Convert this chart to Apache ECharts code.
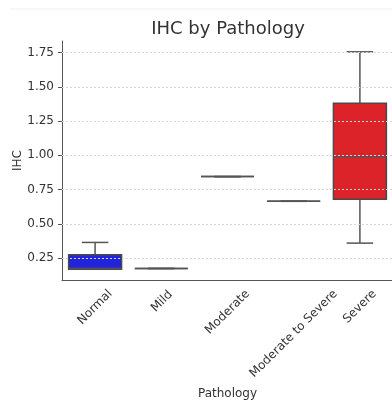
<!DOCTYPE html>
<html>
<head>
<meta charset="utf-8">
<script src="https://cdn.jsdelivr.net/npm/echarts@6/dist/echarts.min.js"></script>
<style>
html, body { margin: 0; padding: 0; background: #fff; }
#chart { width: 392px; height: 401px; }
</style>
</head>
<body>
<div id="chart"></div>
<script>
// data
const categories = ['Normal', 'Mild', 'Moderate', 'Moderate to Severe', 'Severe']
const mins = [0.17, 0.175, 0.845, 0.665, 0.36]
const q1s = [0.17, 0.175, 0.845, 0.665, 0.68]
const medians = [0.175, 0.175, 0.845, 0.665, 0.99]
const q3s = [0.275, 0.175, 0.845, 0.665, 1.38]
const maxs = [0.365, 0.175, 0.845, 0.665, 1.755]
const boxColors = ['#2323dc', '#e8862a', '#3a9a3a', '#8b5fb8', '#dc2329']
const yTicks = [0.25, 0.5, 0.75, 1.0, 1.25, 1.5, 1.75]

const FONT = 'DejaVu Sans'
const LABEL_SIZE = 12
const LABEL_LH = 14

// measure label widths so rotated labels sit centered under the tick
const ctx = document.createElement('canvas').getContext('2d')
ctx.font = LABEL_SIZE + 'px "' + FONT + '"'
const xData = categories.map(c => {
	const w = ctx.measureText(c).width
	return {
		value: c,
		textStyle: {
			align: 'center',
			verticalAlign: 'top',
			lineHeight: LABEL_LH,
			padding: [Math.max(0, w / 4 - LABEL_LH / 2), w / 2, 0, 0]
		}
	}
})

const boxData = categories.map((c, i) => [i, mins[i], q1s[i], medians[i], q3s[i], maxs[i]])

const chart = echarts.init(document.getElementById('chart'))
chart.setOption({
	animation: false,
	textStyle: { fontFamily: FONT },
	title: {
		text: 'IHC by Pathology',
		left: 223,
		top: 15,
		textAlign: 'center',
		textStyle: { fontFamily: FONT, fontSize: 18, fontWeight: 'normal', color: '#333' }
	},
	graphic: [{
		type: 'line',
		shape: { x1: 10, y1: 9, x2: 392, y2: 9 },
		style: { stroke: '#f0f0f0', lineWidth: 1 }
	}],
	grid: {
		left: 62,
		right: -1,
		top: 41,
		bottom: 121,
		outerBoundsMode: 'none',
		containLabel: false
	},
	xAxis: {
		type: 'category',
		data: xData,
		name: 'Pathology',
		nameLocation: 'middle',
		nameGap: 108,
		nameTextStyle: { fontFamily: FONT, fontSize: 12, color: '#333' },
		axisLine: { lineStyle: { color: '#555', width: 1 } },
		axisTick: { alignWithLabel: true, length: 4, lineStyle: { color: '#555' } },
		axisLabel: {
			interval: 0,
			rotate: 45,
			margin: 12,
			hideOverlap: false,
			fontFamily: FONT,
			fontSize: LABEL_SIZE,
			color: '#333'
		},
		splitLine: { show: false }
	},
	yAxis: {
		type: 'value',
		min: 0.091,
		max: 1.834,
		name: 'IHC',
		nameLocation: 'middle',
		nameGap: 38,
		nameMoveOverlap: false,
		nameTextStyle: { fontFamily: FONT, fontSize: 12, color: '#333' },
		axisLine: { show: true, lineStyle: { color: '#555', width: 1 } },
		axisTick: { show: true, length: 4, customValues: yTicks, lineStyle: { color: '#555' } },
		axisLabel: {
			customValues: yTicks,
			formatter: v => v.toFixed(2),
			fontFamily: FONT,
			fontSize: LABEL_SIZE,
			color: '#333'
		},
		splitLine: { show: false }
	},
	series: [{
		type: 'custom',
		name: 'IHC',
		encode: { x: 0, y: [1, 2, 3, 4, 5] },
		data: boxData,
		clip: true,
		renderItem(params, api) {
			const i = api.value(0)
			const pMin = api.coord([i, api.value(1)])
			const pQ1 = api.coord([i, api.value(2)])
			const pMed = api.coord([i, api.value(3)])
			const pQ3 = api.coord([i, api.value(4)])
			const pMax = api.coord([i, api.value(5)])
			const bw = api.size([1, 0])[0] * 0.8
			const cx = pMed[0]
			const lineStyle = { stroke: '#555', lineWidth: 1.5 }
			return {
				type: 'group',
				children: [
					{ type: 'line', shape: { x1: cx, y1: pQ3[1], x2: cx, y2: pMax[1] }, style: lineStyle },
					{ type: 'line', shape: { x1: cx, y1: pQ1[1], x2: cx, y2: pMin[1] }, style: lineStyle },
					{ type: 'line', shape: { x1: cx - bw / 4, y1: pMax[1], x2: cx + bw / 4, y2: pMax[1] }, style: lineStyle },
					{ type: 'line', shape: { x1: cx - bw / 4, y1: pMin[1], x2: cx + bw / 4, y2: pMin[1] }, style: lineStyle },
					{
						type: 'rect',
						shape: { x: cx - bw / 2, y: pQ3[1], width: bw, height: pQ1[1] - pQ3[1] },
						style: { fill: boxColors[i], stroke: '#4a4a4a', lineWidth: 1.5 }
					},
					{ type: 'line', shape: { x1: cx - bw / 2, y1: pMed[1], x2: cx + bw / 2, y2: pMed[1] }, style: lineStyle }
				]
			}
		},
		markLine: {
			silent: true,
			symbol: 'none',
			z: 10,
			label: { show: false },
			lineStyle: { type: [2, 2], color: '#d6d6d6', width: 1 },
			data: yTicks.map(v => ({ yAxis: v }))
		}
	}]
})
</script>
</body>
</html>
